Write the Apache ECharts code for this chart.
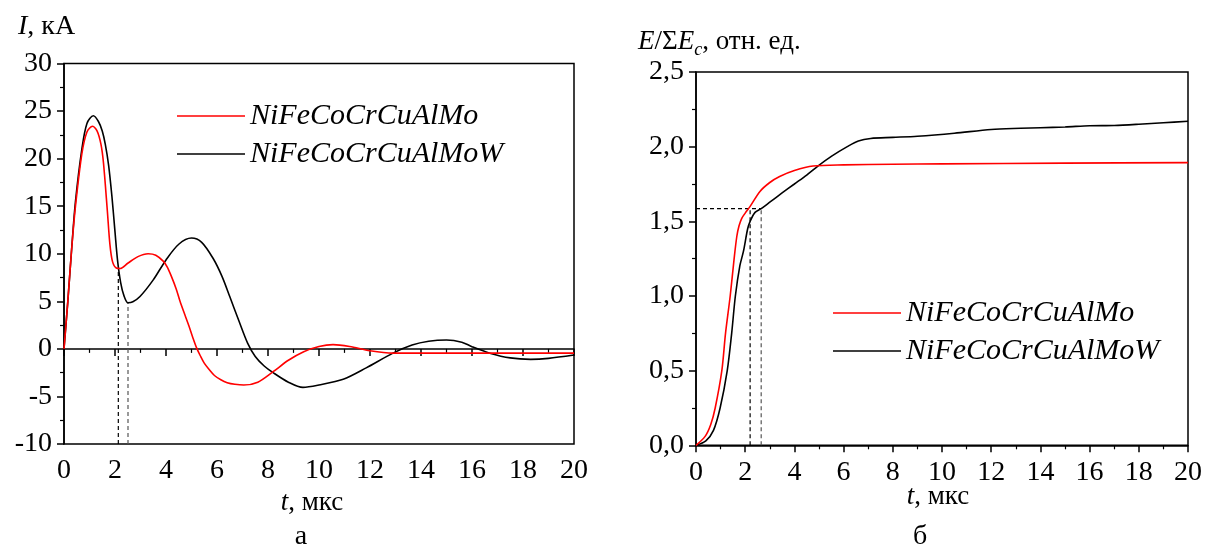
<!DOCTYPE html>
<html>
<head>
<meta charset="utf-8">
<script src="https://cdn.jsdelivr.net/npm/echarts@6/dist/echarts.min.js"></script>
<style>
  html, body { margin: 0; background: #fff; }
  #main { width: 1208px; height: 546px; }
</style>
</head>
<body>
<div id="main"></div>
<script>
const names = ['NiFeCoCrCuAlMo', 'NiFeCoCrCuAlMoW']

// а: ток, кА
const tCurMo = [0, 0.15, 0.3, 0.45, 0.7, 0.9, 1.12, 1.3, 1.45, 1.55, 1.7, 1.8, 1.9, 2.05, 2.2, 2.5, 2.9, 3.3, 3.6, 3.9, 4.05, 4.2, 4.4, 4.55, 4.75, 4.9, 5.05, 5.2, 5.35, 5.5, 5.7, 5.9, 6.15, 6.4, 6.7, 7.05, 7.6, 8.2, 8.8, 9.4, 10.0, 10.55, 11.2, 12.0, 12.9, 14, 16, 18, 20]
const iCurMo = [0, 5, 10.5, 15, 20.5, 22.8, 23.4, 22.9, 21.5, 19.5, 14.5, 11, 9.2, 8.5, 8.45, 9.0, 9.7, 10.0, 9.85, 9.2, 8.6, 7.7, 6.3, 5.0, 3.5, 2.4, 1.2, 0.1, -0.75, -1.5, -2.2, -2.8, -3.25, -3.55, -3.72, -3.8, -3.5, -2.4, -1.2, -0.3, 0.25, 0.45, 0.25, -0.2, -0.45, -0.45, -0.45, -0.45, -0.45]
const tCurMoW = [0, 0.15, 0.3, 0.45, 0.7, 0.9, 1.15, 1.35, 1.5, 1.62, 1.75, 1.88, 2.0, 2.1, 2.22, 2.35, 2.51, 2.7, 2.98, 3.5, 4.0, 4.5, 5.0, 5.4, 5.85, 6.2, 6.5, 6.85, 7.2, 7.5, 7.85, 8.2, 8.8, 9.37, 10.0, 10.95, 11.85, 12.9, 13.65, 14.3, 15.0, 15.6, 16.0, 16.7, 17.5, 18.3, 19.0, 20]
const iCurMoW = [0, 5, 10.5, 15.5, 21, 23.7, 24.5, 23.9, 22.9, 21.5, 19.3, 16, 12.3, 9.3, 7.0, 5.6, 4.85, 4.95, 5.5, 7.25, 9.35, 11.0, 11.65, 11.2, 9.5, 7.6, 5.5, 3.0, 0.6, -0.8, -1.8, -2.5, -3.5, -4.05, -3.8, -3.2, -2.0, -0.45, 0.4, 0.8, 0.93, 0.7, 0.23, -0.45, -0.95, -1.1, -1.0, -0.65]
// пунктир к минимумам тока
const tCurMin = [2.13, 2.51]
const iCurMin = [8.45, 4.85]

// б: энергия, отн. ед.
const tEnMo = [0, 0.37, 0.6, 0.78, 1.05, 1.2, 1.39, 1.55, 1.66, 1.75, 1.86, 2.0, 2.2, 2.6, 3.0, 3.4, 4.0, 4.76, 6.0, 8.0, 10.0, 15.0, 20.0]
const eEnMo = [0, 0.06, 0.14, 0.25, 0.5, 0.75, 1.0, 1.25, 1.4, 1.47, 1.52, 1.555, 1.6, 1.7, 1.76, 1.8, 1.84, 1.87, 1.878, 1.882, 1.885, 1.89, 1.893]
const tEnMoW = [0, 0.4, 0.71, 0.98, 1.27, 1.45, 1.6, 1.78, 1.93, 2.1, 2.2, 2.4, 2.65, 3.0, 3.5, 4.0, 4.5, 4.98, 5.5, 6.15, 6.6, 7.1, 8.0, 9.0, 10.5, 12.0, 13.2, 14.0, 15.0, 16.0, 17.0, 18.0, 19.0, 20.0]
const eEnMoW = [0, 0.03, 0.1, 0.25, 0.5, 0.75, 1.0, 1.2, 1.3, 1.45, 1.5, 1.56, 1.585, 1.628, 1.69, 1.75, 1.81, 1.873, 1.935, 2.0, 2.038, 2.055, 2.062, 2.07, 2.09, 2.115, 2.123, 2.127, 2.132, 2.14, 2.142, 2.15, 2.16, 2.17]
// пунктир к уровню 1,585
const tEnKnee = [2.2, 2.65]
const eEnKnee = 1.585

const zip = (t, v) => t.map((x, i) => [x, v[i]])
const font = 'Liberation Serif'

const axisCommon = {
  type: 'value',
  axisLine: { show: true, lineStyle: { color: '#000', width: 1.5 } },
  axisTick: { show: true, length: 7, lineStyle: { color: '#000', width: 1.5 } },
  minorTick: { show: true, splitNumber: 2, length: 4, lineStyle: { color: '#000', width: 1.2 } },
  splitLine: { show: false },
  minorSplitLine: { show: false }
}
const labelStyle = { color: '#000', fontFamily: font, fontSize: 28 }

const xAxisOf = gridIndex => Object.assign({}, axisCommon, {
  gridIndex, min: 0, max: 20, interval: 2,
  axisLabel: Object.assign({ margin: 13 }, labelStyle)
})

const curve = (name, data, color, xi) => ({
  name, type: 'line', xAxisIndex: xi, yAxisIndex: xi, data,
  smooth: 0.3, symbol: 'none', silent: true,
  lineStyle: { color, width: 1.6 }, itemStyle: { color }
})
const guide = (data, xi, color) => ({
  type: 'line', xAxisIndex: xi, yAxisIndex: xi, data,
  symbol: 'none', silent: true, z: 1,
  lineStyle: { color, width: 1.2, type: [4, 3] }
})

const legendOf = (left, top) => ({
  left, top, orient: 'vertical', padding: 0,
  data: names.map(n => ({ name: n, icon: 'rect' })),
  itemWidth: 68, itemHeight: 1.6, itemGap: 8, selectedMode: false,
  textStyle: { fontFamily: font, fontStyle: 'italic', fontSize: 30, lineHeight: 30, color: '#000' }
})

const textEl = (x, y, text, size, align, rich) => ({
  type: 'text', x, y, silent: true,
  style: { text, fontFamily: font, fontSize: size, fill: '#000', align, verticalAlign: 'middle', rich }
})
const it = size => ({ fontFamily: font, fontSize: size, fontStyle: 'italic' })

const option = {
  backgroundColor: '#fff',
  animation: false,
  grid: [
    { left: 64, top: 63.5, width: 510, height: 380.5, show: true, borderColor: '#000', borderWidth: 1.5 },
    { left: 696, top: 72, width: 492, height: 373.3, show: true, borderColor: '#000', borderWidth: 1.5 }
  ],
  xAxis: [xAxisOf(0), xAxisOf(1)],
  yAxis: [
    Object.assign({}, axisCommon, {
      gridIndex: 0, min: -10, max: 30, interval: 5,
      axisLabel: Object.assign({ margin: 12 }, labelStyle)
    }),
    Object.assign({}, axisCommon, {
      gridIndex: 1, min: 0, max: 2.5, interval: 0.5,
      axisLabel: Object.assign({ margin: 12, formatter: v => v.toFixed(1).replace('.', ',') }, labelStyle)
    })
  ],
  legend: [legendOf(177, 101), legendOf(833, 298)],
  series: [
    guide([[tCurMin[0], -10], [tCurMin[0], iCurMin[0]]], 0, '#000'),
    guide([[tCurMin[1], -10], [tCurMin[1], iCurMin[1]]], 0, '#555'),
    curve(names[1], zip(tCurMoW, iCurMoW), '#000', 0),
    curve(names[0], zip(tCurMo, iCurMo), '#ff0000', 0),
    guide([[0, eEnKnee], [tEnKnee[1], eEnKnee]], 1, '#000'),
    guide([[tEnKnee[0], 0], [tEnKnee[0], eEnKnee]], 1, '#000'),
    guide([[tEnKnee[1], 0], [tEnKnee[1], eEnKnee]], 1, '#555'),
    curve(names[1], zip(tEnMoW, eEnMoW), '#000', 1),
    curve(names[0], zip(tEnMo, eEnMo), '#ff0000', 1)
  ],
  graphic: [
    textEl(18, 27, '{i|I}, кА', 28, 'left', { i: it(28) }),
    textEl(638, 42, '{i|E}/Σ{i|E}{s|c}, отн. ед.', 27, 'left', {
      i: it(27), s: Object.assign(it(18), { padding: [16, 0, 0, 0] })
    }),
    textEl(312, 503, '{i|t}, мкс', 27, 'center', { i: it(27) }),
    textEl(938, 497, '{i|t}, мкс', 27, 'center', { i: it(27) }),
    textEl(301, 537, 'а', 28, 'center'),
    textEl(920, 537, 'б', 28, 'center')
  ]
}

const chart = echarts.init(document.getElementById('main'))
chart.setOption(option)
</script>
</body>
</html>
